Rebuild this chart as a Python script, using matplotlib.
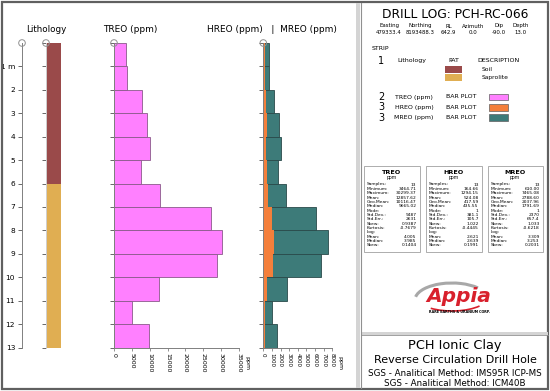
import matplotlib
matplotlib.use('Agg')
import matplotlib.pyplot as plt
from matplotlib.patches import Rectangle, Circle, Arc
import numpy as np

W, H = 550, 391

# ---- data ----
depth_from = np.arange(0, 13)
depth_to = depth_from + 1
treo = [3464.71, 3560, 7930, 9150, 9990, 7470, 12790, 27070, 30299.37, 28750, 12510, 5040, 9665.02]
hreo = [200, 164.66, 330, 450, 320, 435.55, 500, 960, 1294.15, 1180, 470, 190, 220]
mreo = [610.0, 700, 1240, 1791.69, 2050, 1670, 2600, 6075, 7465.08, 6650, 2710, 1010, 1550]

litho_names = ['Soil', 'Saprolite']
litho_from = [0, 6]
litho_to = [6, 13]

header_labels = ['Easting', 'Northing', 'RL', 'Azimuth', 'Dip', 'Depth']
header_values = ['479333.4', '8193488.3', '642.9', '0.0', '-90.0', '13.0']

stat_labels = ['Samples:', 'Minimum:', 'Maximum:', 'Mean:', 'Geo.Mean:', 'Median:', 'Mode:',
               'Std.Dev.:', 'Std.Err.:', 'Skew:', 'Kurtosis:', 'Log:', 'Mean:', 'Median:', 'Skew:']
treo_stats = ['13', '3464.71', '30299.37', '12857.62', '10116.47', '9665.02', '',
              '9487', '2631', '0.9387', '-0.7679', '', '4.005', '3.985', '0.1404']
hreo_stats = ['13', '164.66', '1294.15', '524.08', '417.59', '435.55', '1',
              '381.1', '105.7', '1.022', '-0.4445', '', '2.621', '2.639', '0.1991']
mreo_stats = ['13', '610.00', '7465.08', '2788.60', '2037.96', '1791.69', '1',
              '2370', '657.4', '1.033', '-0.6218', '', '3.309', '3.253', '0.2031']

# ---- colours ----
c_soil = '#9a4a4a'
c_sap = '#e0ae52'
c_treo = '#ff80ff'
c_hreo = '#f47f3b'
c_mreo = '#3d7b79'
c_axis = '#808080'


def fig_rect(x0, y0, x1, y1):
    return [x0 / W, 1 - y1 / H, (x1 - x0) / W, (y1 - y0) / H]


fig = plt.figure(figsize=(5.5, 3.91), dpi=100)

top, bot = 43, 347.5
ticks_m = np.arange(0, 14)


def style_track(ax):
    ax.set_ylim(13, 0)
    for s in ['top', 'right']:
        ax.spines[s].set_visible(False)
    ax.spines['left'].set_color(c_axis)
    ax.spines['bottom'].set_color(c_axis)
    ax.spines['left'].set_linewidth(0.7)
    ax.spines['bottom'].set_linewidth(0.7)
    ax.set_yticks(ticks_m)
    ax.set_yticklabels([])
    ax.tick_params(axis='y', length=3, width=0.6, color='#505050')
    ax.tick_params(axis='x', length=2.5, width=0.6, color=c_axis, pad=1.5)
    ax.patch.set_alpha(0)


# depth axis
ax_d = fig.add_axes(fig_rect(22, top, 23, bot))
ax_d.set_ylim(13, 0)
for s in ['top', 'right', 'bottom']:
    ax_d.spines[s].set_visible(False)
ax_d.spines['left'].set_color(c_axis)
ax_d.spines['left'].set_linewidth(0.7)
ax_d.set_xticks([])
ax_d.set_yticks(ticks_m[1:])
ax_d.set_yticklabels(['1 m'] + [str(t) for t in ticks_m[2:]], fontsize=5.3)
ax_d.tick_params(axis='y', length=3, width=0.6, color='#505050', pad=2)
ax_d.patch.set_alpha(0)

# lithology
ax_l = fig.add_axes(fig_rect(46, top, 61.3, bot))
style_track(ax_l)
ax_l.spines['bottom'].set_visible(False)
ax_l.spines['left'].set_color('#d0d0d0')
ax_l.set_xticks([])
ax_l.set_xlim(0, 1)
for f, t, col in zip(litho_from, litho_to, [c_soil, c_sap]):
    ax_l.bar(0.5, t - f, bottom=f, width=1, color=col, edgecolor='none')

# TREO
ax_t = fig.add_axes(fig_rect(114, top, 239, bot))
style_track(ax_t)
ax_t.barh(depth_from + 0.5, treo, height=1, color=c_treo, edgecolor='#8a5a8a', linewidth=0.6, clip_on=False)
ax_t.set_xlim(0, 35000)
ax_t.set_xticks(np.arange(0, 35001, 5000))
ax_t.set_xticklabels([str(v) for v in range(0, 35001, 5000)], rotation=270, fontsize=4.5)

# HREO / MREO
ax_r = fig.add_axes(fig_rect(263.3, top, 332.3, bot))
style_track(ax_r)
ax_r.barh(depth_from + 0.5, mreo, height=1, color=c_mreo, edgecolor='#2a4a4a', linewidth=0.6, clip_on=False)
ax_r.barh(depth_from + 0.5, hreo, height=1, color=c_hreo, edgecolor='none', clip_on=False)
ax_r.set_xlim(0, 8000)
ax_r.set_xticks(np.arange(0, 8001, 1000))
ax_r.set_xticklabels([str(v) for v in range(0, 8001, 1000)], rotation=270, fontsize=4)

# ---- overlay in pixel coordinates ----
ov = fig.add_axes([0, 0, 1, 1])
ov.set_xlim(0, W)
ov.set_ylim(H, 0)
ov.axis('off')
ov.patch.set_alpha(0)

# frame and dividers
ov.add_patch(Rectangle((2, 2), W - 4, H - 4, fill=False, edgecolor='#606060', lw=1.6))
ov.add_patch(Rectangle((356, 3), 4, H - 6, facecolor='#d4d4d4', edgecolor='none'))
ov.plot([360.5, 360.5], [3, H - 3], color='#909090', lw=0.8)
ov.add_patch(Rectangle((360.5, 332), W - 363, 2.5, facecolor='#d4d4d4', edgecolor='none'))
ov.plot([360.5, W - 2], [334.5, 334.5], color='#909090', lw=0.6)

# track titles
ov.text(46, 29, 'Lithology', fontsize=6.3, ha='center', va='center')
ov.text(130.5, 29, 'TREO (ppm)', fontsize=6.5, ha='center', va='center')
ov.text(271.5, 29, 'HREO (ppm)   |  MREO (ppm)', fontsize=6.5, ha='center', va='center')
for x in [22, 46, 114, 263.3]:
    ov.add_patch(Circle((x, 43), 3.3, fill=False, edgecolor='#909090', lw=0.7))
ov.text(247, 356, 'ppm', fontsize=4.5, rotation=270, ha='center', va='top')
ov.text(339.5, 356, 'ppm', fontsize=4.5, rotation=270, ha='center', va='top')

# header
cx = 455
ov.text(cx, 15, 'DRILL LOG: PCH-RC-066', fontsize=8.8, ha='center', va='center')
for x, lab, val in zip([389, 420.5, 448.5, 473, 499, 520.5], header_labels, header_values):
    ov.text(x, 26, lab, fontsize=3.9, ha='center', va='center')
    ov.text(x, 32, val, fontsize=3.9, ha='center', va='center')

# strip legend
ov.text(371.5, 49, 'STRIP', fontsize=4.5, ha='left', va='center')
ov.text(381, 60.5, '1', fontsize=7, ha='center', va='center')
ov.text(412, 60.5, 'Lithology', fontsize=4.5, ha='center', va='center')
ov.text(454, 60.5, 'PAT', fontsize=4.5, ha='center', va='center')
ov.text(498, 60.5, 'DESCRIPTION', fontsize=4.5, ha='center', va='center')
for y, col, name in zip([66, 74], [c_soil, c_sap], litho_names):
    ov.add_patch(Rectangle((445, y), 17.3, 6.8, facecolor=col, edgecolor='none'))
    ov.text(481.5, y + 3.6, name, fontsize=4.3, ha='left', va='center')

strips = [('2', 'TREO (ppm)', c_treo, 97), ('3', 'HREO (ppm)', c_hreo, 107.3), ('3', 'MREO (ppm)', c_mreo, 117.7)]
for num, lab, col, y in strips:
    ov.text(381, y, num, fontsize=7, ha='center', va='center')
    ov.text(414, y, lab, fontsize=4.5, ha='center', va='center')
    ov.text(461.5, y, 'BAR PLOT', fontsize=4.5, ha='center', va='center')
    ov.add_patch(Rectangle((489.3, y - 3.4), 18.4, 6.8, facecolor=col, edgecolor='#606060', lw=0.5))

# statistics boxes
boxes = [(363.5, 419.5, 'TREO', treo_stats), (425.7, 481.7, 'HREO', hreo_stats), (487.7, 542.7, 'MREO', mreo_stats)]
for x0, x1, name, vals in boxes:
    ov.add_patch(Rectangle((x0, 165.5), x1 - x0, 86, fill=False, edgecolor='#a0a0a0', lw=0.6))
    ov.text((x0 + x1) / 2, 172, name, fontsize=4.6, fontweight='bold', ha='center', va='center')
    ov.text((x0 + x1) / 2, 177.5, 'ppm', fontsize=3.3, ha='center', va='center')
    for i, (lab, val) in enumerate(zip(stat_labels, vals)):
        y = 184.5 + i * 4.35
        ov.text(x0 + 3, y, lab, fontsize=3.2, ha='left', va='center')
        ov.text(x1 - 3, y, val, fontsize=3.2, ha='right', va='center')

# logo
ov.add_patch(Arc((452, 300), 74, 34, theta1=185, theta2=335, color='#a8a8a8', lw=2.2))
ov.add_patch(Arc((452, 296), 74, 30, theta1=20, theta2=150, color='#d8202c', lw=1.2))
ov.text(459, 297, 'Appia', fontsize=14.5, fontweight='bold', style='italic', color='#d8202c',
        ha='center', va='center')
ov.text(459, 312, 'RARE EARTHS & URANIUM CORP.', fontsize=2.4, fontweight='bold', ha='center', va='center')

# footer
ov.text(cx, 345, 'PCH Ionic Clay', fontsize=9.3, ha='center', va='center')
ov.text(cx, 360, 'Reverse Circulation Drill Hole', fontsize=8, ha='center', va='center')
ov.text(cx, 373.5, 'SGS - Analitical Method: IMS95R ICP-MS', fontsize=6.3, ha='center', va='center')
ov.text(cx, 383, 'SGS - Analitical Method: ICM40B', fontsize=6.3, ha='center', va='center')

fig.savefig('out.png', dpi=100)
